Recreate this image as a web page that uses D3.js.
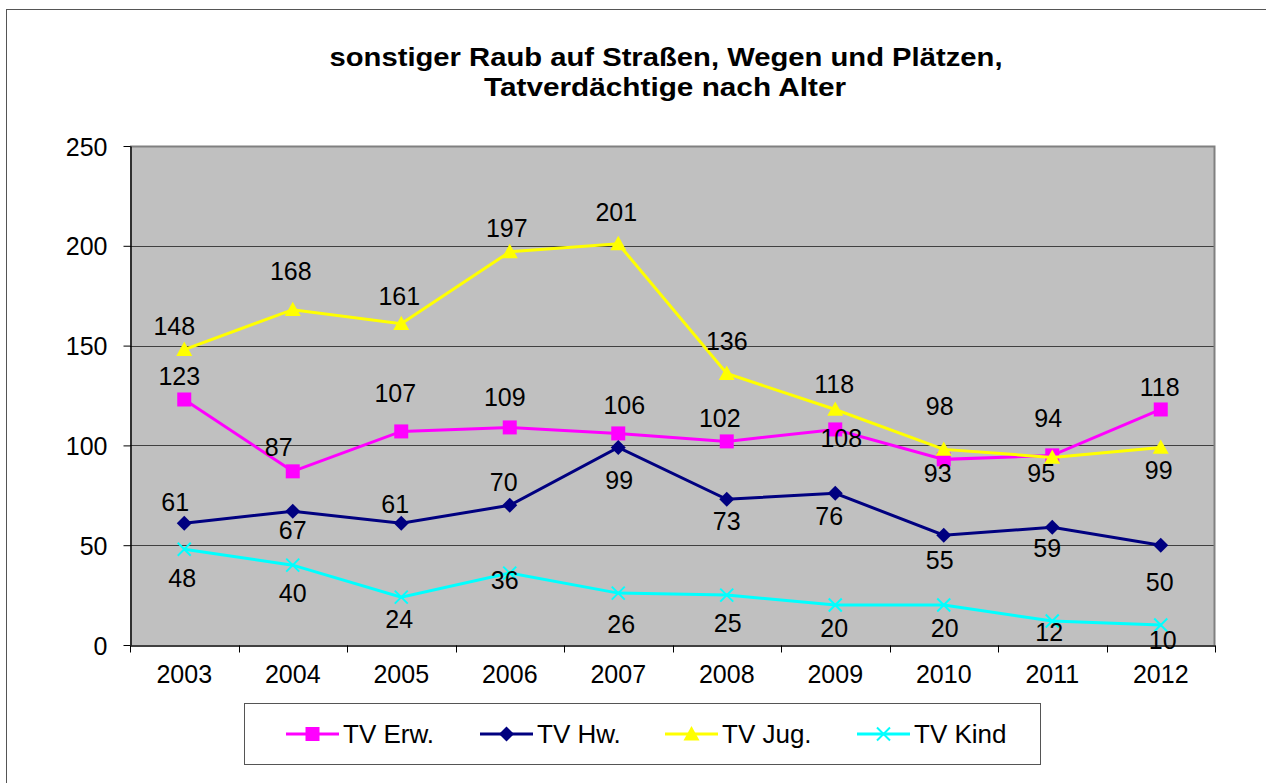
<!DOCTYPE html>
<html>
<head>
<meta charset="utf-8">
<script src="https://cdn.jsdelivr.net/npm/d3@7"></script>
<style>
  body { margin: 0; background: #fff; }
  text { font-family: Arial, "Liberation Sans", sans-serif; fill: #000; }
</style>
</head>
<body>
<svg id="chart" width="1266" height="783"></svg>
<script>
/// data
var years = ["2003","2004","2005","2006","2007","2008","2009","2010","2011","2012"];
var tvErw  = [123, 87, 107, 109, 106, 102, 108, 93, 95, 118];
var tvHw   = [61, 67, 61, 70, 99, 73, 76, 55, 59, 50];
var tvJug  = [148, 168, 161, 197, 201, 136, 118, 98, 94, 99];
var tvKind = [48, 40, 24, 36, 26, 25, 20, 20, 12, 10];
var yTicks = [0, 50, 100, 150, 200, 250];

/// label nudges (px, relative to the point) as placed in the original
var nudgeErw  = [[-5,-23],[-14,-24],[-6,-38],[-5,-30],[6,-28],[-7,-23],[6,9],[-6,14],[-11,18],[-1,-22]];
var nudgeHw   = [[-9,-21],[0,19],[-6,-19],[-6,-23],[1,33],[0,22],[-6,23],[-4,25],[-5,21],[-1,37]];
var nudgeJug  = [[-10,-24],[-2,-39],[-2,-28],[-3,-24],[-2,-32],[0,-33],[-1,-25],[-4,-43],[-4,-39],[-2,23]];
var nudgeKind = [[-2,29],[0,28],[-2,22],[-5,7],[3,31],[1,28],[-1,23],[1,23],[-3,11],[2,15]];

var series = [
  {name: "TV Erw.",  values: tvErw,  color: "#FF00FF", marker: "square",   nudge: nudgeErw},
  {name: "TV Hw.",   values: tvHw,   color: "#000080", marker: "diamond",  nudge: nudgeHw},
  {name: "TV Jug.",  values: tvJug,  color: "#FFFF00", marker: "triangle", nudge: nudgeJug},
  {name: "TV Kind",  values: tvKind, color: "#00FFFF", marker: "cross",    nudge: nudgeKind}
];

/// dimensions
var plot = {left: 130, top: 146, right: 1215, bottom: 645};

var svg = d3.select("#chart");

// outer frame (right/bottom edges sit outside the window)
svg.append("rect")
   .attr("x", 6.5).attr("y", 9.5)
   .attr("width", 1300).attr("height", 800)
   .attr("fill", "#fff")
   .attr("stroke", "#555")
   .attr("stroke-width", 1);

var x = d3.scaleBand()
          .domain(years)
          .range([plot.left, plot.right]);

var y = d3.scaleLinear()
          .domain([0, 250])
          .range([plot.bottom, plot.top]);

// title
var title = svg.append("g").attr("class", "title");
title.append("text")
     .attr("x", 666).attr("y", 66)
     .attr("text-anchor", "middle")
     .attr("textLength", 673)
     .attr("lengthAdjust", "spacingAndGlyphs")
     .style("font-size", "26px").style("font-weight", "bold")
     .text("sonstiger Raub auf Straßen, Wegen und Plätzen,");
title.append("text")
     .attr("x", 665).attr("y", 96)
     .attr("text-anchor", "middle")
     .attr("textLength", 362)
     .attr("lengthAdjust", "spacingAndGlyphs")
     .style("font-size", "26px").style("font-weight", "bold")
     .text("Tatverdächtige nach Alter");

// plot area
svg.append("rect")
   .attr("x", plot.left).attr("y", plot.top)
   .attr("width", plot.right - plot.left)
   .attr("height", plot.bottom - plot.top)
   .attr("fill", "#C0C0C0");

// gridlines
svg.append("g")
   .selectAll("line")
   .data(yTicks.filter(d => d > 0 && d < 250))
   .enter()
   .append("line")
   .attr("x1", plot.left).attr("x2", plot.right)
   .attr("y1", d => Math.round(y(d)) + 0.5)
   .attr("y2", d => Math.round(y(d)) + 0.5)
   .attr("stroke", "#404040")
   .attr("stroke-width", 1);

// plot border top/right
svg.append("path")
   .attr("d", "M" + plot.left + "," + (plot.top + 0.5) + "H" + (plot.right - 0.5) + "V" + plot.bottom)
   .attr("fill", "none")
   .attr("stroke", "#808080")
   .attr("stroke-width", 2);

// y axis
var yAxis = svg.append("g")
               .attr("transform", "translate(" + (plot.left + 0.5) + ",0)")
               .call(d3.axisLeft(y).tickValues(yTicks).tickSize(7).tickPadding(16).tickSizeOuter(0));
yAxis.selectAll("text").style("font-size", "25px").attr("dy", "0.36em");

// x axis
var xAxis = svg.append("g")
               .attr("transform", "translate(0," + (plot.bottom + 0.5) + ")")
               .call(d3.axisBottom(x).tickSize(0).tickPadding(20).tickSizeOuter(0));
xAxis.selectAll("text").style("font-size", "25px");
// ticks between categories
xAxis.selectAll(".sep")
     .data(d3.range(years.length + 1))
     .enter()
     .append("line")
     .attr("class", "sep")
     .attr("x1", i => Math.round(plot.left + i * x.step()) + 0.5)
     .attr("x2", i => Math.round(plot.left + i * x.step()) + 0.5)
     .attr("y1", 0).attr("y2", 7)
     .attr("stroke", "#000");
svg.selectAll(".domain").attr("stroke", "#000").attr("stroke-width", 1.5);

var cx = d => x(d) + x.bandwidth() / 2;

function drawMarker(g, type, color, size) {
  var s = size / 2;
  if (type === "square") {
    g.append("rect").attr("x", -s).attr("y", -s).attr("width", size).attr("height", size)
     .attr("fill", color);
  } else if (type === "diamond") {
    g.append("path").attr("d", "M0," + (-s) + "L" + s + ",0L0," + s + "L" + (-s) + ",0Z")
     .attr("fill", color);
  } else if (type === "triangle") {
    g.append("path").attr("d", "M0," + (-s) + "L" + s + "," + (s * 0.8) + "L" + (-s) + "," + (s * 0.8) + "Z")
     .attr("fill", color);
  } else if (type === "cross") {
    g.append("path").attr("d", "M" + (-s) + "," + (-s) + "L" + s + "," + s + "M" + s + "," + (-s) + "L" + (-s) + "," + s)
     .attr("stroke", color).attr("stroke-width", 2).attr("fill", "none");
  }
}

var markerSize = {square: 14, diamond: 15, triangle: 16, cross: 13};

var line = d3.line()
             .x((d, i) => cx(years[i]))
             .y(d => y(d));

// series lines + markers
var SERIES_G = svg.append("g").attr("class", "series");
series.forEach(function(s) {
  SERIES_G.append("path")
          .datum(s.values)
          .attr("d", line)
          .attr("fill", "none")
          .attr("stroke", s.color)
          .attr("stroke-width", 3);
  s.values.forEach(function(v, i) {
    var g = SERIES_G.append("g")
                    .attr("transform", "translate(" + cx(years[i]) + "," + y(v) + ")");
    drawMarker(g, s.marker, s.color, markerSize[s.marker]);
  });
});

// data labels
var LABEL_G = svg.append("g").attr("class", "labels");
series.forEach(function(s) {
  LABEL_G.selectAll()
         .data(s.values)
         .enter()
         .append("text")
         .attr("x", (d, i) => cx(years[i]) + s.nudge[i][0])
         .attr("y", (d, i) => y(d) + s.nudge[i][1])
         .attr("dy", "0.36em")
         .attr("text-anchor", "middle")
         .style("font-size", "25px")
         .text(d => d);
});

// legend
var LEGEND_G = svg.append("g").attr("class", "legend");
LEGEND_G.append("rect")
        .attr("x", 244.5).attr("y", 703.5)
        .attr("width", 796).attr("height", 61)
        .attr("fill", "#fff")
        .attr("stroke", "#555")
        .attr("stroke-width", 1);

var legendX = [286, 480, 665, 857];
series.forEach(function(s, i) {
  var lx = legendX[i], ly = 734;
  LEGEND_G.append("line")
          .attr("x1", lx).attr("x2", lx + 53)
          .attr("y1", ly).attr("y2", ly)
          .attr("stroke", s.color).attr("stroke-width", 3);
  var g = LEGEND_G.append("g").attr("transform", "translate(" + (lx + 26.5) + "," + ly + ")");
  drawMarker(g, s.marker, s.color, markerSize[s.marker]);
  LEGEND_G.append("text")
          .attr("x", lx + 57).attr("y", ly)
          .attr("dy", "0.36em")
          .style("font-size", "26px")
          .text(s.name);
});

svg.selectAll("text").style("font-family", "Arial, 'Liberation Sans', sans-serif");
</script>
</body>
</html>
